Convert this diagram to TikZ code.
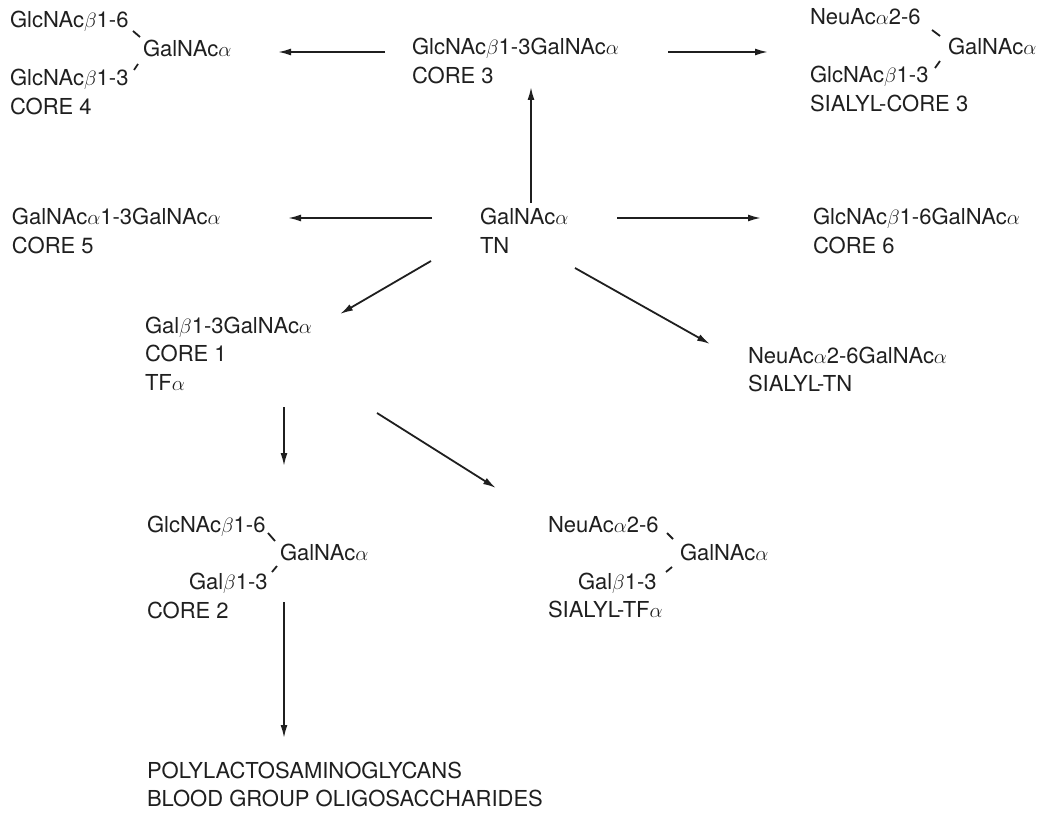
\documentclass[tikz,border=0pt]{standalone}
\usepackage{fontspec}
\setmainfont{TeX Gyre Heros}
\usetikzlibrary{arrows.meta}
\newcommand{\al}{$\alpha$}
\newcommand{\be}{$\beta$}
\newcommand{\blk}[1]{\begin{tabular}[t]{@{}l@{}}#1\end{tabular}}
\begin{document}
\begin{tikzpicture}[x=1pt,y=-1pt,
  txt/.style={anchor=base west,inner sep=0pt,outer sep=0pt,font=\fontsize{22}{28.5}\selectfont,text=black!88},
  arr/.style={line width=1.8pt,black!88,-{Latex[length=13pt,width=7pt]}},
  bond/.style={line width=1.8pt,black!88}]
\useasboundingbox (0,0) rectangle (1039,813);
% CORE 4
\node[txt] (c4a) at (10,28) {GlcNAc\be1-6};
\node[txt] (c4g) at (143,57) {GalNAc\al};
\node[txt] (c4b) at (10,86) {\blk{GlcNAc\be1-3\\CORE 4}};
% CORE 3
\node[txt] (c3) at (412,55) {\blk{GlcNAc\be1-3GalNAc\al\\CORE 3}};
% SIALYL-CORE 3
\node[txt] (s3a) at (810,25) {NeuAc\al2-6};
\node[txt] (s3g) at (948,55) {GalNAc\al};
\node[txt] (s3b) at (810,83) {\blk{GlcNAc\be1-3\\SIALYL-CORE 3}};
% row 2
\node[txt] (c5) at (12,225) {\blk{GalNAc\al1-3GalNAc\al\\CORE 5}};
\node[txt] (tn) at (480,225) {\blk{GalNAc\al\\TN}};
\node[txt] (c6) at (813,225) {\blk{GlcNAc\be1-6GalNAc\al\\CORE 6}};
% row 3
\node[txt] (c1) at (145,333) {\blk{Gal\be1-3GalNAc\al\\CORE 1\\TF\al}};
\node[txt] (stn) at (748,363) {\blk{NeuAc\al2-6GalNAc\al\\SIALYL-TN}};
% CORE 2
\node[txt] (c2a) at (147,532) {GlcNAc\be1-6};
\node[txt] (c2g) at (280,560) {GalNAc\al};
\node[txt] (c2b) at (189,589) {Gal\be1-3};
\node[txt] (c2n) at (147,618) {CORE 2};
% SIALYL-TF
\node[txt] (stfa) at (548,532) {NeuAc\al2-6};
\node[txt] (stfg) at (680,560) {GalNAc\al};
\node[txt] (stfb) at (578,589) {Gal\be1-3};
\node[txt] (stfn) at (548,617) {SIALYL-TF\al};
% bottom
\node[txt] (poly) at (147,778) {\blk{POLYLACTOSAMINOGLYCANS\\BLOOD GROUP OLIGOSACCHARIDES}};
% bonds
\draw[bond] ([shift={(123,3)}]c4a.base west) -- ([shift={(-3,-20)}]c4g.base west);
\draw[bond] ([shift={(124,-16)}]c4b.base west) -- ([shift={(-5,7)}]c4g.base west);
\draw[bond] ([shift={(122,5)}]s3a.base west) -- ([shift={(-8,-19)}]s3g.base west);
\draw[bond] ([shift={(125,-15)}]s3b.base west) -- ([shift={(-8,6)}]s3g.base west);
\draw[bond] ([shift={(121,1)}]c2a.base west) -- ([shift={(-5,-19)}]c2g.base west);
\draw[bond] ([shift={(83,-17)}]c2b.base west) -- ([shift={(-3,6)}]c2g.base west);
\draw[bond] ([shift={(119,1)}]stfa.base west) -- ([shift={(-7,-21)}]stfg.base west);
\draw[bond] ([shift={(88,-17)}]stfb.base west) -- ([shift={(-8,7)}]stfg.base west);
% arrows
\draw[arr] ([shift={(-27,-3)}]c3.base west) -- ([shift={(135,-5)}]c4g.base west);
\draw[arr] ([shift={(256,-3)}]c3.base west) -- ([shift={(-180,-3)}]s3g.base west);
\draw[arr] ([shift={(51,-22)}]tn.base west) -- ([shift={(119,32)}]c3.base west);
\draw[arr] ([shift={(-48,-7)}]tn.base west) -- ([shift={(276,-7)}]c5.base west);
\draw[arr] ([shift={(137,-7)}]tn.base west) -- ([shift={(-52,-7)}]c6.base west);
\draw[arr] ([shift={(-49,36)}]tn.base west) -- ([shift={(195,-19)}]c1.base west);
\draw[arr] ([shift={(95,43)}]tn.base west) -- ([shift={(-38,-19)}]stn.base west);
\draw[arr] ([shift={(139,74)}]c1.base west) -- ([shift={(137,-66)}]c2a.base west);
\draw[arr] ([shift={(232,80)}]c1.base west) -- ([shift={(-52,-44)}]stfa.base west);
\draw[arr] ([shift={(137,-16)}]c2n.base west) -- ([shift={(137,-40)}]poly.base west);
\end{tikzpicture}
\end{document}
